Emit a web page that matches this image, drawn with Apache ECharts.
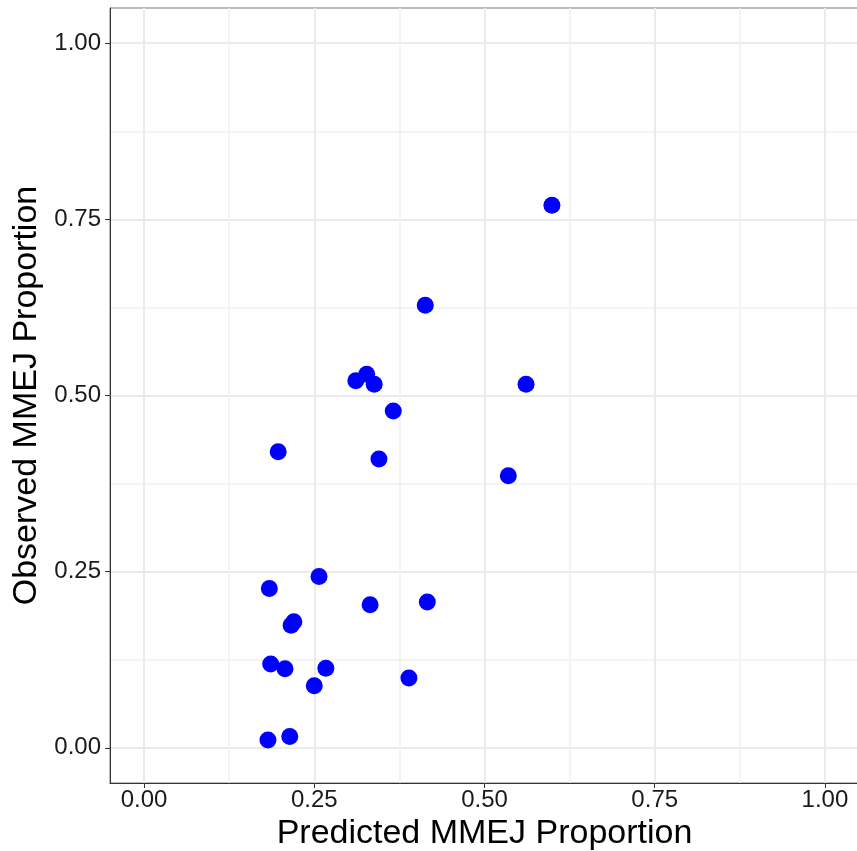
<!DOCTYPE html>
<html>
<head>
<meta charset="utf-8">
<script src="https://cdn.jsdelivr.net/npm/echarts@6/dist/echarts.min.js"></script>
<style>
  html, body { margin: 0; padding: 0; background: #fff; }
  #chart { width: 857px; height: 851px; }
</style>
</head>
<body>
<div id="chart"></div>
<script>
// predicted vs observed MMEJ proportion
var predicted = [0.599, 0.413, 0.311, 0.327, 0.338, 0.366, 0.561, 0.197, 0.345, 0.535,
                 0.184, 0.257, 0.332, 0.416, 0.220, 0.216, 0.186, 0.207, 0.267, 0.250,
                 0.389, 0.182, 0.214];
var observed  = [0.770, 0.628, 0.521, 0.530, 0.516, 0.478, 0.516, 0.420, 0.410, 0.386,
                 0.226, 0.243, 0.203, 0.207, 0.179, 0.174, 0.119, 0.112, 0.113, 0.088,
                 0.099, 0.011, 0.016];
var majorTicks = [0, 0.25, 0.5, 0.75, 1];
var minorTicks = [0.125, 0.375, 0.625, 0.875];

var font = 'Liberation Sans, Arial, sans-serif';
var chart = echarts.init(document.getElementById('chart'));

function mainAxis(name, isX) {
  return {
    type: 'value',
    min: -0.05,
    max: 1.05,
    name: name,
    nameLocation: 'middle',
    nameGap: isX ? 31 : 62,
    nameTextStyle: { fontFamily: font, fontSize: 34, color: '#000' },
    axisLine: { show: true, onZero: false, lineStyle: { color: '#333', width: 1 } },
    axisTick: { show: true, length: 5, customValues: majorTicks, lineStyle: { color: '#333' } },
    axisLabel: {
      customValues: majorTicks,
      fontFamily: font, fontSize: 24, color: '#1a1a1a', margin: isX ? 5 : 9,
      formatter: function (v) { return v.toFixed(2); }
    },
    splitLine: { show: true, lineStyle: { color: '#ebebeb', width: 2 } }
  };
}

function minorAxis() {
  return {
    type: 'value',
    min: -0.05,
    max: 1.05,
    axisLine: { show: false },
    axisTick: { show: false, customValues: minorTicks },
    axisLabel: { show: false, customValues: minorTicks },
    splitLine: { show: true, lineStyle: { color: '#f0f0f0', width: 1.5 } }
  };
}

var xMinor = minorAxis(); xMinor.position = 'bottom';
var yMinor = minorAxis(); yMinor.position = 'left';

var option = {
  backgroundColor: '#fff',
  animation: false,
  grid: {
    left: 110, width: 749, top: 8, height: 775,
    outerBoundsMode: 'none', containLabel: false,
    show: true, borderColor: '#777', borderWidth: 1, backgroundColor: 'transparent'
  },
  xAxis: [mainAxis('Predicted MMEJ Proportion', true), xMinor],
  yAxis: [mainAxis('Observed MMEJ Proportion', false), yMinor],
  series: [{
    type: 'scatter',
    symbolSize: 17,
    itemStyle: { color: '#0000ff', opacity: 1 },
    data: predicted.map(function (p, i) { return [p, observed[i]]; }),
    z: 10
  }]
};
chart.setOption(option);
</script>
</body>
</html>
